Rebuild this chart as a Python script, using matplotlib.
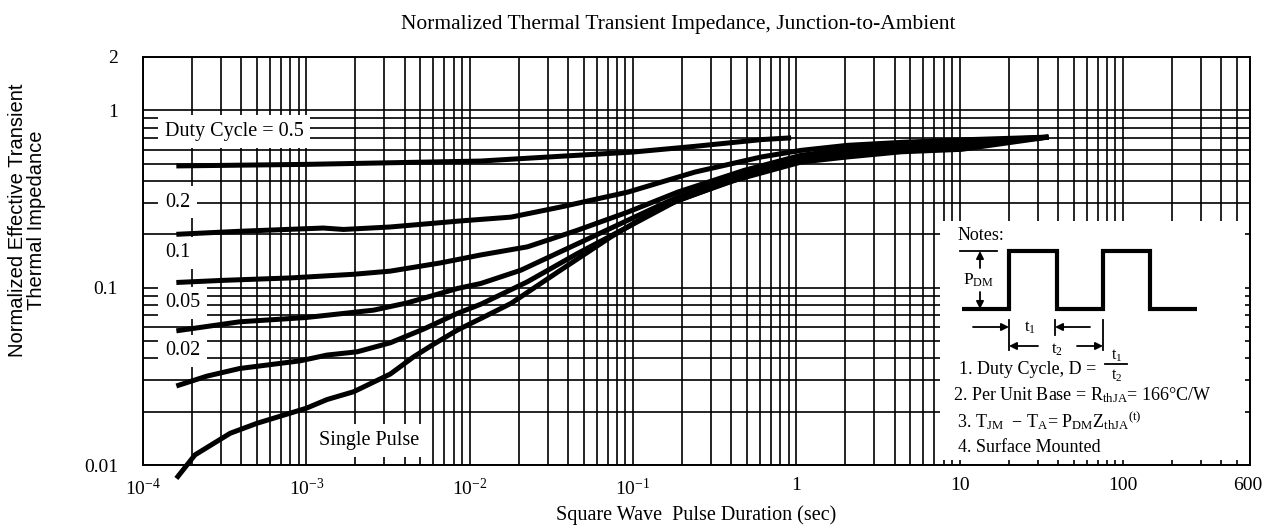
import matplotlib
matplotlib.use("Agg")
import matplotlib.pyplot as plt
from matplotlib.patches import Rectangle

plt.rcParams['font.family'] = ['Liberation Serif', 'DejaVu Serif']
plt.rcParams['mathtext.fontset'] = 'custom'
plt.rcParams['mathtext.rm'] = 'Liberation Serif'
plt.rcParams['mathtext.it'] = 'Liberation Serif:italic'
plt.rcParams['mathtext.bf'] = 'Liberation Serif:bold'

# square wave pulse duration (sec) / normalized Zth
t_d50 = [1.6e-4, 1.0e-3, 1.17e-2, 3.6e-2, 0.10, 0.24, 0.61, 0.93]
z_d50 = [0.486, 0.496, 0.518, 0.551, 0.582, 0.627, 0.684, 0.700]

t_d20 = [1.6e-4, 3.9e-4, 1.27e-3, 1.69e-3, 3.27e-3, 8.8e-3, 1.79e-2, 3.6e-2,
         9.3e-2, 0.24, 0.61, 1.07, 2.05, 4.4, 10.3, 35]
z_d20 = [0.200, 0.208, 0.217, 0.213, 0.220, 0.238, 0.250, 0.285,
         0.346, 0.449, 0.546, 0.595, 0.635, 0.660, 0.682, 0.707]

t_d10 = [1.6e-4, 3.1e-4, 8.0e-4, 1.94e-3, 3.27e-3, 6.64e-3, 1.17e-2, 2.26e-2,
         4.58e-2, 9.3e-2, 0.188, 0.48, 1.07, 2.05, 4.4, 10.3, 35]
z_d10 = [0.107, 0.110, 0.1135, 0.119, 0.124, 0.138, 0.153, 0.170,
         0.211, 0.267, 0.346, 0.459, 0.558, 0.603, 0.635, 0.665, 0.707]

t_d05 = [1.6e-4, 3.9e-4, 1.0e-3, 2.58e-3, 4.15e-3, 8.4e-3, 1.17e-2, 2.06e-2,
         4.17e-2, 9.3e-2, 0.188, 0.48, 1.07, 2.05, 4.4, 10.3, 35]
z_d05 = [0.0571, 0.0642, 0.0679, 0.0747, 0.0821, 0.0989, 0.1056, 0.1255,
         0.170, 0.240, 0.325, 0.440, 0.546, 0.580, 0.619, 0.643, 0.707]

t_d02 = [1.6e-4, 2.46e-4, 3.9e-4, 9.2e-4, 1.34e-3, 2.05e-3, 3.27e-3, 5.22e-3,
         8.4e-3, 1.17e-2, 2.26e-2, 4.58e-2, 9.3e-2, 0.188, 0.48, 1.07,
         2.05, 4.4, 10.3, 35]
z_d02 = [0.0279, 0.0317, 0.0350, 0.0387, 0.0417, 0.0435, 0.0489, 0.0584,
         0.0716, 0.0807, 0.108, 0.156, 0.220, 0.311, 0.421, 0.523,
         0.565, 0.603, 0.627, 0.707]

t_single = [1.6e-4, 2.08e-4, 3.42e-4, 5.0e-4, 1.0e-3, 1.34e-3, 1.95e-3, 3.27e-3,
            4.55e-3, 6.04e-3, 8.4e-3, 1.17e-2, 1.79e-2, 3.6e-2, 7.3e-2, 0.149,
            0.381, 1.07, 2.05, 4.4, 10.3, 35]
z_single = [0.0084, 0.0114, 0.0151, 0.0172, 0.0209, 0.0234, 0.0259, 0.0326,
            0.0408, 0.0481, 0.0576, 0.0670, 0.0815, 0.1255, 0.193, 0.285,
            0.394, 0.511, 0.546, 0.584, 0.603, 0.707]

curve_labels = ['Duty Cycle = 0.5', '0.2', '0.1', '0.05', '0.02', 'Single Pulse']
label_t = [1.36e-4, 1.36e-4, 1.36e-4, 1.36e-4, 1.36e-4, 1.19e-3]
label_z = [0.762, 0.304, 0.157, 0.082, 0.044, 0.0137]

xtick_vals = [1e-4, 1e-3, 1e-2, 1e-1, 1, 10, 100, 600]
xtick_text = [r'$10^{-4}$', r'$10^{-3}$', r'$10^{-2}$', r'$10^{-1}$', '1', '10', '100', '']
ytick_vals = [0.01, 0.1, 1, 2]
ytick_text = ['0.01', '0.1', '1', '2']

W, H = 1262, 527
fig = plt.figure(figsize=(W / 100, H / 100), dpi=100)
ax = fig.add_axes([143 / W, 1 - 465 / H, (1250 - 143) / W, (465 - 57) / H])
ax.set_xscale('log')
ax.set_yscale('log')
ax.set_xlim(1e-4, 600)
ax.set_ylim(0.01, 2)

ax.set_axisbelow(True)
ax.grid(which='both', color='black', lw=1.2)
ax.set_xticks(xtick_vals)
ax.set_xticklabels(xtick_text)
ax.set_yticks(ytick_vals)
ax.set_yticklabels(ytick_text)
ax.tick_params(which='both', length=0)
ax.tick_params(axis='x', pad=9, labelsize=14)
ax.tick_params(axis='y', pad=18, labelsize=14)
for s in ax.spines.values():
    s.set_linewidth(1.4)
# last x label sits at the right edge, pull it in so it isn't clipped
ax.annotate('600', xy=(xtick_vals[-1], 0.01), xytext=(9, -9), textcoords='offset points',
            ha='right', va='top', fontsize=14, annotation_clip=False)

for tt, zz in [(t_d50, z_d50), (t_d20, z_d20), (t_d10, z_d10),
               (t_d05, z_d05), (t_d02, z_d02), (t_single, z_single)]:
    ax.plot(tt, zz, color='black', lw=3.6, solid_capstyle='butt',
            solid_joinstyle='round', clip_on=False, zorder=3)

for txt, tx, tz in zip(curve_labels, label_t, label_z):
    ax.text(tx, tz, txt, fontsize=14.5, va='center', ha='left', zorder=4,
            bbox=dict(fc='white', ec='none', pad=5))

ax.set_xlabel('Square Wave  Pulse Duration (sec)', fontsize=14.5, labelpad=5)
fig.text(678 / W, 1 - 24 / H, 'Normalized Thermal Transient Impedance, Junction-to-Ambient',
         ha='center', va='center', fontsize=15.5)
fig.text(27 / W, 1 - 220 / H, 'Normalized Effective Transient\nThermal Impedance',
         family='Liberation Sans', rotation=90, ha='center', va='center',
         fontsize=14.5, linespacing=1.0)

# notes panel, drawn in pixel space on top of the grid
ov = fig.add_axes([0, 0, 1, 1], zorder=5)
ov.set_xlim(0, W)
ov.set_ylim(H, 0)
ov.axis('off')
ov.add_patch(Rectangle((940, 221), 305, 239, fc='white', ec='none'))
ov.text(958, 236, 'Notes:', va='center', fontsize=13)
ov.plot([962, 1009, 1009, 1057, 1057, 1103, 1103, 1150, 1150, 1197],
        [309, 309, 251, 251, 309, 309, 251, 251, 309, 309],
        color='black', lw=3, solid_joinstyle='miter', solid_capstyle='butt')
ov.plot([960, 997], [251, 251], color='black', lw=1.3)
arr = dict(arrowstyle='-|>', lw=1.3, color='black', mutation_scale=11, shrinkA=0, shrinkB=0)
ov.annotate('', xy=(980, 251), xytext=(980, 268), arrowprops=arr)
ov.annotate('', xy=(980, 309), xytext=(980, 292), arrowprops=arr)
ov.text(978, 280, r'P$_{\rm DM}$', ha='center', va='center', fontsize=12.5)
ov.plot([1009, 1009], [320, 350], color='black', lw=1.3)
ov.plot([1055, 1055], [320, 335], color='black', lw=1.3)
ov.plot([1103, 1103], [320, 350], color='black', lw=1.3)
ov.annotate('', xy=(1009, 327), xytext=(973, 327), arrowprops=arr)
ov.annotate('', xy=(1055, 327), xytext=(1090, 327), arrowprops=arr)
ov.annotate('', xy=(1009, 346), xytext=(1038, 346), arrowprops=arr)
ov.annotate('', xy=(1103, 346), xytext=(1077, 346), arrowprops=arr)
ov.text(1030, 328, r't$_1$', ha='center', va='center', fontsize=12)
ov.text(1057, 350, r't$_2$', ha='center', va='center', fontsize=12)
ov.text(959, 369, '1. Duty Cycle, D =', va='center', fontsize=13)
ov.plot([1105, 1127], [364, 364], color='black', lw=1.3)
ov.text(1117, 356, r't$_1$', ha='center', va='center', fontsize=11.5)
ov.text(1117, 376, r't$_2$', ha='center', va='center', fontsize=11.5)
ov.text(953, 395, r'2. Per Unit Base = R$_{\rm thJA}$= 166°C/W', va='center', fontsize=13)
ov.text(957, 421, r'3. T$_{\rm JM}$  $-$ T$_{\rm A}$= P$_{\rm DM}$Z$_{\rm thJA}$$^{\rm (t)}$',
        va='center', fontsize=13)
ov.text(958, 448, '4. Surface Mounted', va='center', fontsize=13)

fig.savefig('out.png', dpi=100)
